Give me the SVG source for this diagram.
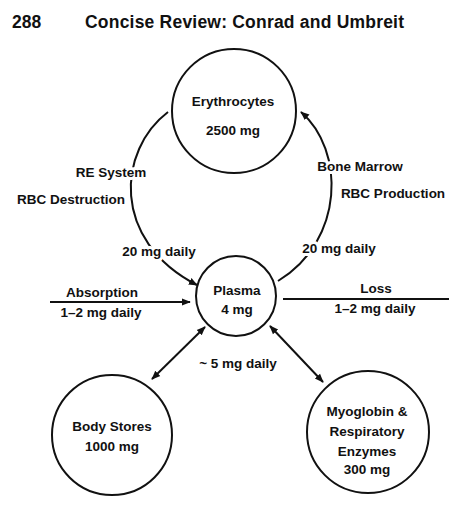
<svg xmlns="http://www.w3.org/2000/svg" width="449" height="511" viewBox="0 0 449 511">
<style>
text{font-family:"Liberation Sans",Arial,sans-serif;font-weight:bold;fill:#111}
.h{font-size:17.5px}
.l{font-size:13.5px;text-anchor:middle}
.halo{paint-order:stroke;stroke:#fff;stroke-width:6px;stroke-linejoin:round}
.node circle{fill:none;stroke:#111;stroke-width:2}
.c{fill:none;stroke:#111;stroke-width:2}
</style>
<defs>
<marker id="ah" viewBox="0 0 10 10" refX="9" refY="5" markerWidth="9" markerHeight="9" markerUnits="userSpaceOnUse" orient="auto-start-reverse">
<path d="M0,1 L10,5 L0,9 Z" fill="#111"/>
</marker>
</defs>
<rect width="449" height="511" fill="#fff"/>
<text class="h" x="12" y="28">288</text>
<text class="h" x="85" y="28" textLength="319">Concise Review: Conrad and Umbreit</text>

<g id="connectors">
<path class="c" d="M168,112 C118,150 110,240 197,285" marker-end="url(#ah)"/>
<path class="c" d="M278,281 C345,240 345,150 301,112" marker-end="url(#ah)"/>
<path class="c" d="M50,302 L190,302" marker-end="url(#ah)"/>
<path class="c" d="M283,299 L449,299"/>
<path class="c" d="M205,327 L152,379" marker-start="url(#ah)" marker-end="url(#ah)"/>
<path class="c" d="M270,326 L323,382" marker-start="url(#ah)" marker-end="url(#ah)"/>
</g>

<g id="labels">
<text class="l halo" x="111" y="177">RE System</text>
<text class="l halo" x="71" y="204">RBC Destruction</text>
<text class="l halo" x="159" y="256">20 mg daily</text>
<text class="l halo" x="360" y="171">Bone Marrow</text>
<text class="l halo" x="393" y="198">RBC Production</text>
<text class="l halo" x="339" y="253">20 mg daily</text>
<text class="l" x="102" y="297">Absorption</text>
<text class="l" x="101" y="317">1–2 mg daily</text>
<text class="l" x="376" y="293">Loss</text>
<text class="l" x="375" y="313">1–2 mg daily</text>
<text class="l" x="238" y="368">~ 5 mg daily</text>
</g>

<g id="erythrocytes" class="node">
<circle cx="234" cy="111" r="62"/>
<text class="l" x="233" y="106">Erythrocytes</text>
<text class="l" x="233" y="135">2500 mg</text>
</g>
<g id="plasma" class="node">
<circle cx="236" cy="296" r="40"/>
<text class="l" x="237" y="295">Plasma</text>
<text class="l" x="237" y="314">4 mg</text>
</g>
<g id="body-stores" class="node">
<circle cx="112" cy="435" r="60"/>
<text class="l" x="112" y="431">Body Stores</text>
<text class="l" x="112" y="451">1000 mg</text>
</g>
<g id="myoglobin" class="node">
<circle cx="368" cy="432" r="61"/>
<text class="l" x="367" y="416">Myoglobin &amp;</text>
<text class="l" x="367" y="436">Respiratory</text>
<text class="l" x="367" y="456">Enzymes</text>
<text class="l" x="367" y="474">300 mg</text>
</g>
</svg>
